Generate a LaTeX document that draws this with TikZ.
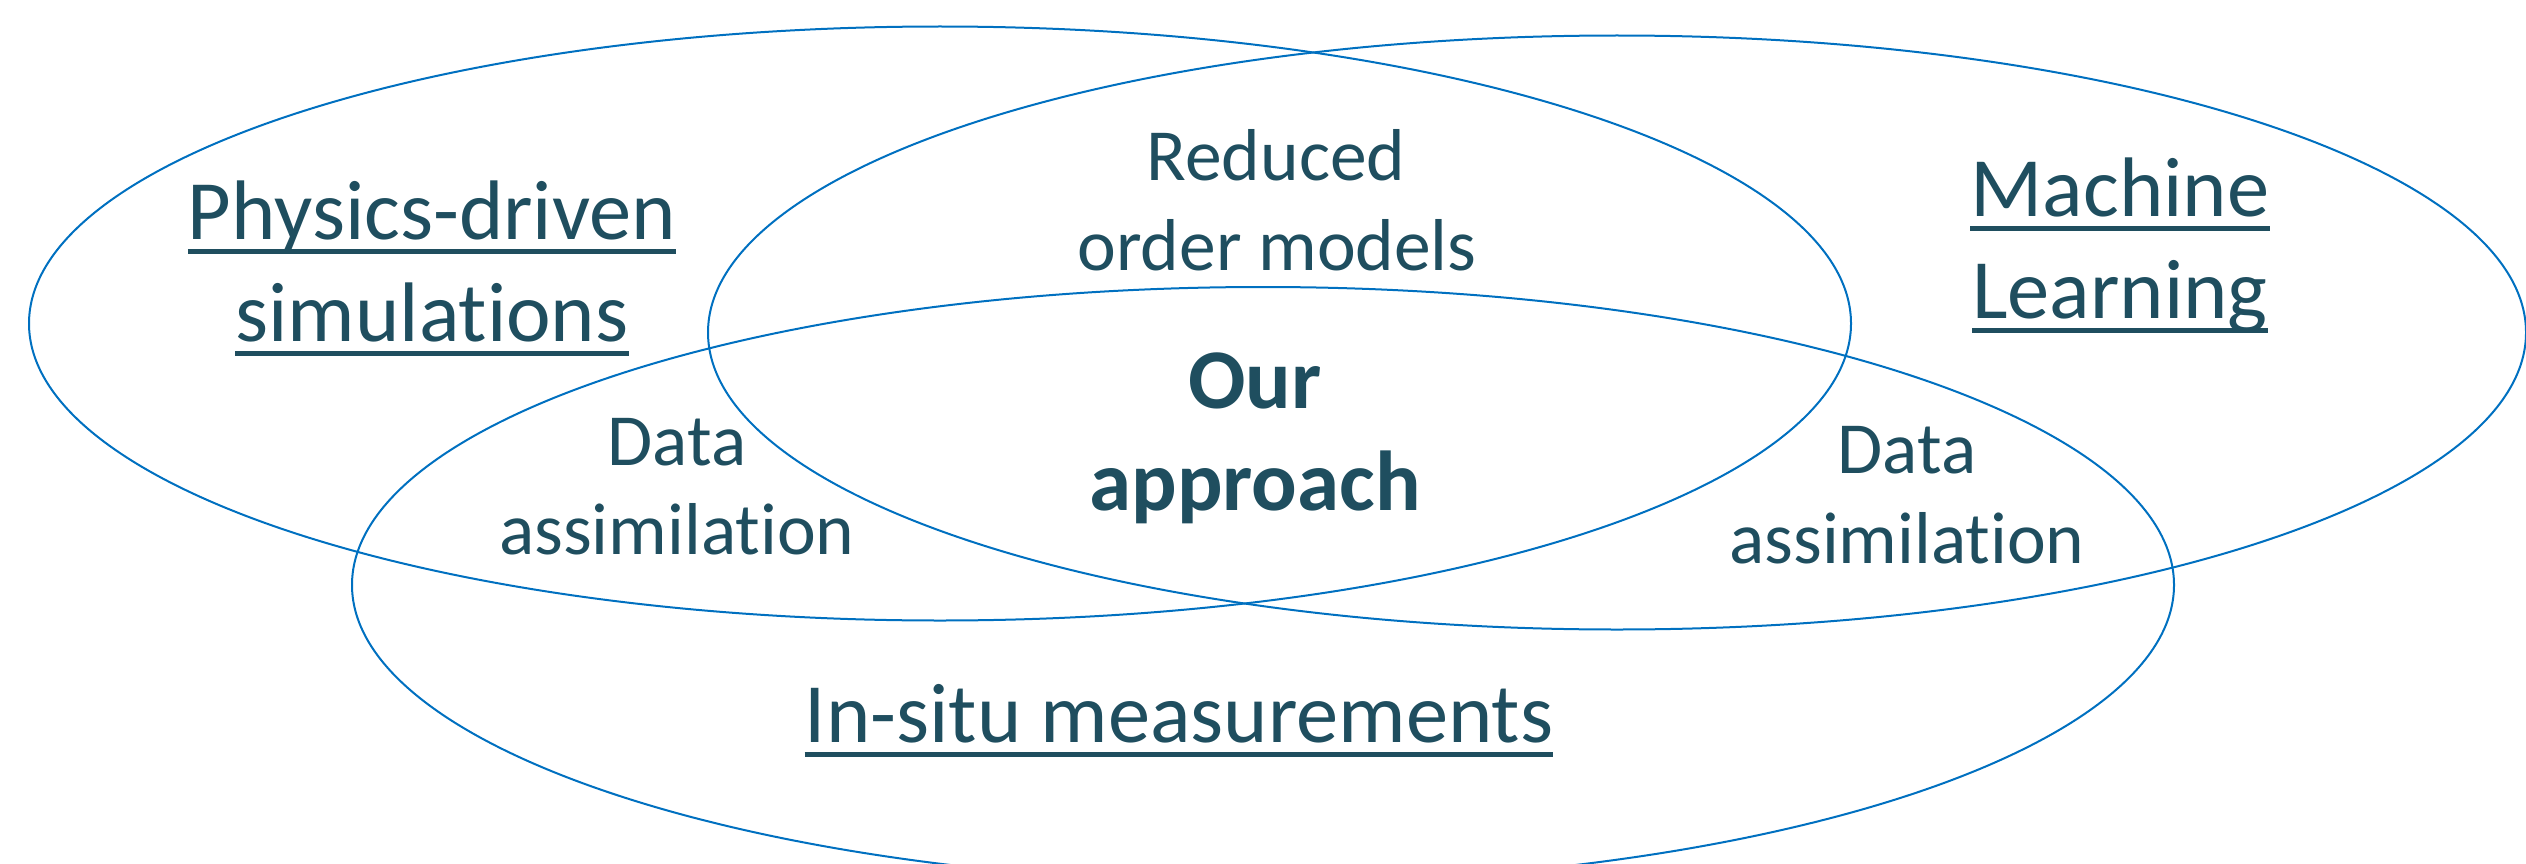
\documentclass[tikz,border=0pt]{standalone}
\usepackage{fontspec}
\setmainfont{Carlito}[Ligatures=NoCommon]
\definecolor{txt}{HTML}{1F4E5F}
\definecolor{ringc}{HTML}{0070C0}
\begin{document}
\begin{tikzpicture}[x=1pt,y=-1pt,
  ring/.style={draw=ringc, line width=2pt},
  title/.style={text=txt, inner sep=0pt, anchor=base, font=\fontsize{84.5}{101}\selectfont},
  lbl/.style={text=txt, inner sep=0pt, anchor=base, font=\fontsize{73.5}{88}\selectfont},
  boldlbl/.style={text=txt, inner sep=0pt, anchor=base, font=\fontsize{85}{102}\selectfont\bfseries},
  uline/.style={draw=txt, line width=5pt}]
\useasboundingbox (0,0) rectangle (2526,864);
\clip (0,0) rectangle (2526,864);
% ellipses
\coordinate (e1) at (940,323.5);
\coordinate (e2) at (1617,332.5);
\coordinate (e3) at (1263,585);
\draw[ring] (e1) ellipse [x radius=911, y radius=297];
\draw[ring] (e2) ellipse [x radius=909, y radius=297];
\draw[ring] (e3) ellipse [x radius=911, y radius=298];
% titles
\node[title] (phys1) at (432,239) {Physics-driven};
\node[title] (phys2) at (432,341) {simulations};
\node[title] (ml1) at (2120,216) {Machine};
\node[title] (ml2) at (2120,318) {Learning};
\node[title] (ins) at (1179,742) {In-situ measurements};
\foreach \n in {phys1,phys2,ml1,ml2,ins}
  \draw[uline] ([yshift=-12pt]\n.base west) -- ([yshift=-12pt]\n.base east);
% overlap labels
\node[lbl] (rom1) at (1276,180) {Reduced};
\node[lbl] (rom2) at (1277,270) {order models};
\node[lbl] (dal1) at (677,465) {Data};
\node[lbl] (dal2) at (677,554) {assimilation};
\node[lbl] (dar1) at (1907,473) {Data};
\node[lbl] (dar2) at (1907,563) {assimilation};
\node[boldlbl] (our1) at (1255,408) {Our};
\node[boldlbl] (our2) at (1255,510) {approach};
\end{tikzpicture}
\end{document}
